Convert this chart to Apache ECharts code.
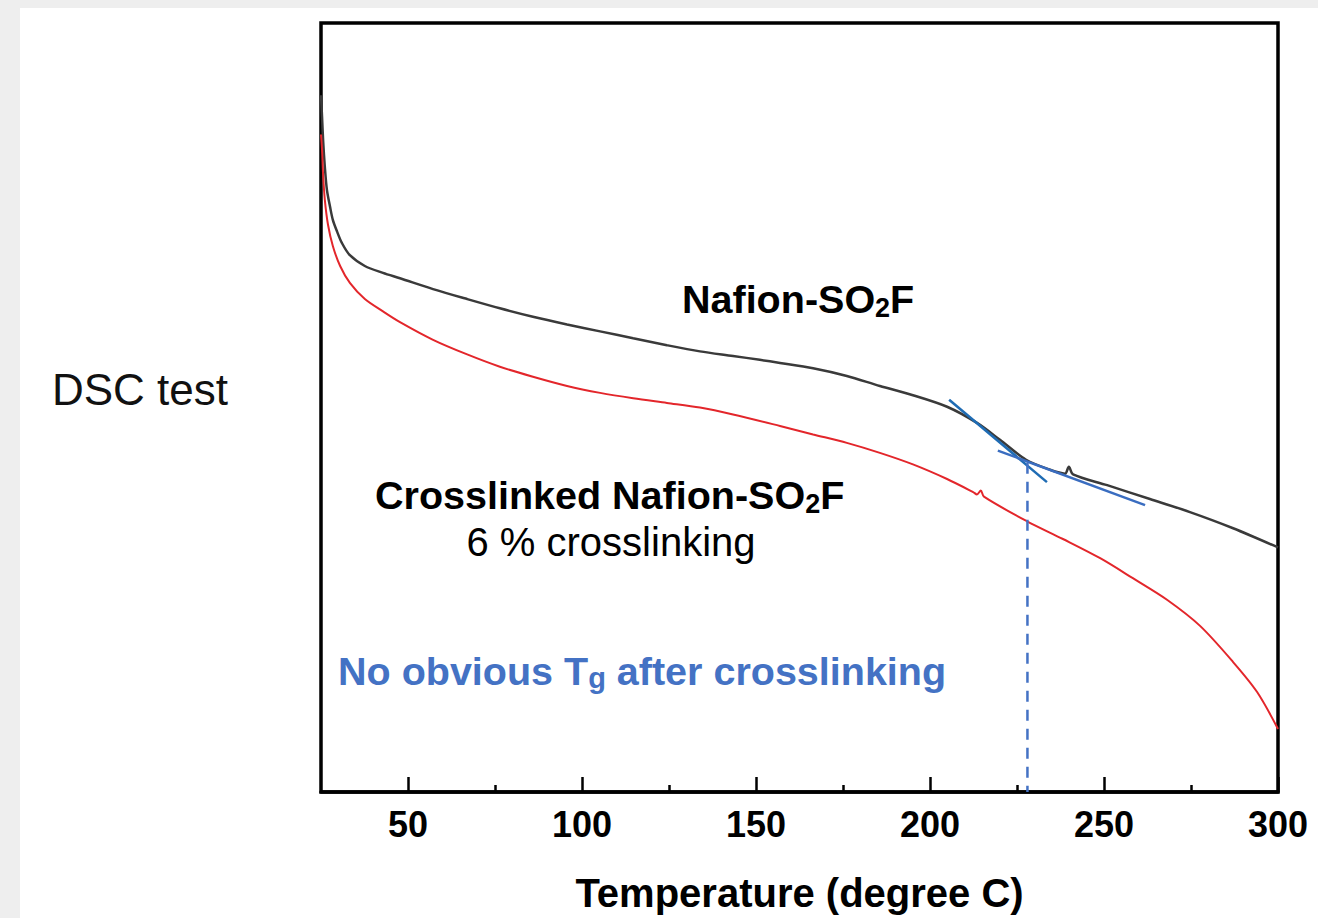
<!DOCTYPE html>
<html>
<head>
<meta charset="utf-8">
<script src="https://cdn.jsdelivr.net/npm/echarts@6/dist/echarts.min.js"></script>
<style>
  html, body { margin: 0; padding: 0; background: #eeeeee; }
  #chart { position: absolute; left: 20px; top: 8px; width: 1298px; height: 910px; background: #ffffff; }
</style>
</head>
<body>
<div id="chart"></div>
<script>
// ---- data (temperature in degree C, heat flow in arbitrary units) ----
const nafionT = [25.0, 25.3, 25.6, 26.1, 26.7, 27.6, 28.4, 29.6, 31.0, 33.3, 37.6, 42.8, 47.7, 57.2, 67.0, 76.4, 85.9, 95.7, 105.2, 114.7, 124.4, 133.9, 143.4, 151.1, 156.9, 166.4, 176.1, 185.6, 195.1, 204.9, 213.5, 220.1, 227.6, 234.5, 238.8, 239.9, 241.1, 250.9, 263.2, 274.7, 287.1, 300.0];
const nafionV = [90.6, 87.8, 84.8, 81.3, 78.3, 76.1, 74.4, 72.9, 71.4, 69.8, 68.4, 67.5, 66.8, 65.4, 64.1, 62.9, 61.8, 60.8, 59.9, 59.0, 58.1, 57.3, 56.7, 56.2, 55.8, 55.1, 54.1, 52.8, 51.6, 50.1, 48.0, 45.8, 43.2, 41.9, 41.4, 42.3, 41.3, 39.9, 38.1, 36.4, 34.3, 31.8];

const crossT = [25.0, 25.3, 25.6, 26.1, 27.0, 28.4, 30.5, 33.3, 37.6, 42.8, 47.7, 57.2, 67.0, 76.4, 85.9, 95.7, 105.2, 114.7, 124.4, 133.9, 143.4, 156.9, 166.4, 176.1, 185.6, 195.1, 204.9, 212.4, 213.5, 214.6, 215.5, 227.9, 238.2, 248.9, 258.3, 268.1, 277.6, 287.1, 294.0, 300.0];
const crossV = [85.5, 83.5, 80.3, 77.0, 73.8, 71.0, 68.4, 66.2, 64.1, 62.5, 61.1, 58.8, 56.9, 55.3, 54.0, 52.8, 51.9, 51.2, 50.6, 50.0, 49.1, 47.6, 46.5, 45.4, 44.1, 42.6, 40.7, 39.0, 38.7, 39.2, 38.4, 35.2, 32.9, 30.4, 27.8, 25.0, 21.6, 16.9, 13.0, 8.2];

const tangentA = [[205.5, 51.0], [233.6, 40.3]];
const tangentB = [[219.5, 44.4], [261.8, 37.3]];
const tgMarker = [[228.0, 42.8], [228.0, 0]];

const majorTicks = [50, 100, 150, 200, 250, 300];
const minorTicks = [75, 125, 175, 225, 275];

const seriesNames = ['Nafion-SO2F', 'Crosslinked Nafion-SO2F'];
const xTitle = 'Temperature (degree C)';

function pairs(xs, ys) { return xs.map((x, i) => [x, ys[i]]); }

const chart = echarts.init(document.getElementById('chart'), null, { renderer: 'svg' });
const FONT = 'Liberation Sans, Arial, Helvetica, sans-serif';
const subStyle = { fontSize: 27, fontWeight: 'bold', fontFamily: FONT, verticalAlign: 'top', padding: [15, 0, 0, 0] };
const mainStyle = { fontSize: 39.5, fontWeight: 'bold', fontFamily: FONT, verticalAlign: 'top' };

chart.setOption({
  animation: false,
  backgroundColor: '#ffffff',
  grid: { left: 301, right: 40, top: 15, bottom: 125, show: true, borderColor: '#000', borderWidth: 3.5, backgroundColor: 'transparent' },
  xAxis: [
    {
      type: 'value', min: 25, max: 300, position: 'bottom',
      name: xTitle, nameLocation: 'middle', nameGap: 81,
      nameTextStyle: { fontSize: 40, fontWeight: 'bold', color: '#000', fontFamily: FONT },
      axisLine: { show: true, lineStyle: { color: '#000', width: 3.5 } },
      axisTick: { show: true, inside: true, length: 15, customValues: majorTicks, lineStyle: { color: '#000', width: 2.5 } },
      axisLabel: { show: true, customValues: majorTicks, margin: 14, fontSize: 36, fontWeight: 'bold', color: '#000', fontFamily: FONT },
      splitLine: { show: false }
    },
    {
      type: 'value', min: 25, max: 300, position: 'bottom',
      axisLine: { show: false },
      axisTick: { show: true, inside: true, length: 7, customValues: minorTicks, lineStyle: { color: '#000', width: 2.5 } },
      axisLabel: { show: false },
      splitLine: { show: false }
    }
  ],
  yAxis: {
    type: 'value', min: 0, max: 100,
    axisLine: { show: false }, axisTick: { show: false }, axisLabel: { show: false }, splitLine: { show: false }
  },
  series: [
    {
      name: seriesNames[0], type: 'line', data: pairs(nafionT, nafionV), showSymbol: false,
      smooth: 0.3,
      lineStyle: { color: '#3a3a3a', width: 2.5 }, itemStyle: { color: '#3a3a3a' }, z: 3
    },
    {
      name: seriesNames[1], type: 'line', data: pairs(crossT, crossV), showSymbol: false,
      smooth: 0.3,
      lineStyle: { color: '#e3262b', width: 2 }, itemStyle: { color: '#e3262b' }, z: 3
    },
    {
      name: 'tangent A', type: 'line', data: tangentA, showSymbol: false,
      lineStyle: { color: '#1f6cb4', width: 2.5 }, z: 4
    },
    {
      name: 'tangent B', type: 'line', data: tangentB, showSymbol: false,
      lineStyle: { color: '#3a6dc0', width: 2.5 }, z: 4
    },
    {
      name: 'Tg', type: 'line', data: tgMarker, showSymbol: false,
      lineStyle: { color: '#4472c4', width: 2.5, type: [11, 8] }, z: 4
    }
  ],
  graphic: [
    {
      type: 'text', x: 32, y: 381,
      style: { text: 'DSC test', fontSize: 44, fontFamily: FONT, fill: '#111', align: 'left', verticalAlign: 'middle' }
    },
    {
      type: 'text', x: 662, y: 271,
      style: {
        text: '{a|Nafion-SO}{s|2}{a|F}', align: 'left', verticalAlign: 'top', fill: '#000',
        rich: { a: mainStyle, s: subStyle }
      }
    },
    {
      type: 'text', x: 355, y: 467,
      style: {
        text: '{a|Crosslinked Nafion-SO}{s|2}{a|F}', align: 'left', verticalAlign: 'top', fill: '#000',
        rich: { a: mainStyle, s: subStyle }
      }
    },
    {
      type: 'text', x: 591, y: 514,
      style: { text: '6 % crosslinking', fontSize: 40, fontFamily: FONT, fill: '#000', align: 'center', verticalAlign: 'top' }
    },
    {
      type: 'text', x: 318, y: 643,
      style: {
        text: '{a|No obvious T}{s|g}{a| after crosslinking}', align: 'left', verticalAlign: 'top', fill: '#4472c4',
        rich: {
          a: Object.assign({}, mainStyle, { color: '#4472c4' }),
          s: Object.assign({}, subStyle, { fontSize: 29, color: '#4472c4', padding: [12, 0, 0, 0] })
        }
      }
    }
  ]
});
</script>
</body>
</html>
